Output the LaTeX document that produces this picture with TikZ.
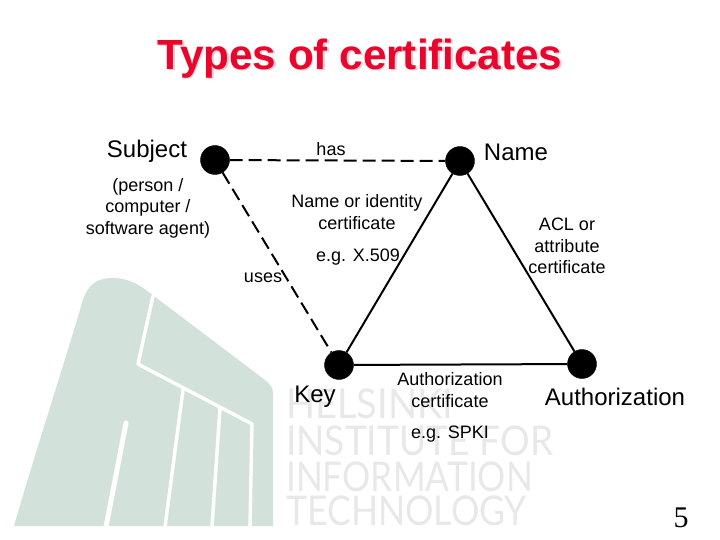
\documentclass[tikz,border=0pt]{standalone}
\usepackage{fontspec}
\setmainfont{Liberation Sans}
\newfontfamily\logofont{Lato}
\newfontfamily\numfont{Liberation Serif}
\usepackage{xcolor}
\usetikzlibrary{positioning}
\definecolor{logogreen}{HTML}{D3E1DB}
\definecolor{logotext}{HTML}{E8E8E8}
\definecolor{titlered}{HTML}{E8062C}
\definecolor{titleshade}{HTML}{F0C4CC}
\tikzset{
  dot/.style={circle, fill=black, draw=black, inner sep=0pt, minimum size=29pt},
  biglabel/.style={font=\fontsize{24}{28}\selectfont, inner sep=0pt},
  smalllabel/.style={font=\fontsize{18}{21.5}\selectfont, align=center, inner sep=0pt},
  logoline/.style={font=\logofont\fontsize{41}{41}\selectfont, text=logotext, anchor=base west, inner sep=0pt},
  solidedge/.style={line width=2pt},
  dashedge/.style={line width=2pt, dash pattern=on 13pt off 6pt},
  logocut/.style={white, line width=3.5pt, line cap=round, line join=round}
}
\begin{document}
\begin{tikzpicture}[x=1pt,y=-1pt]
  \useasboundingbox (0,0) rectangle (720,540);
  % Logo
  \fill[logogreen] (14,526) .. controls (30,470) and (62,370) .. (80,310)
    .. controls (86,285) and (95,278) .. (113,278)
    .. controls (128,278) and (140,285) .. (150,293) -- (265,380)
    .. controls (270,384) and (273,388) .. (273,393) -- (273,526) -- cycle;
  \draw[logocut] (153,296) -- (138,364) -- (252,424) -- (250,527);
  \draw[logocut] (183,390) -- (165,527);
  \draw[logocut] (220,408) -- (212,527);
  \draw[logocut, line width=5pt] (126,423) -- (106,527);
  % Logo text
  \node[logoline, xscale=.93] (helsinki) at (286,418) {HELSINKI};
  \node[logoline, xscale=.905] (institute) at (286,455) {INSTITUTE FOR};
  \node[logoline, xscale=.86] (information) at (286,491) {INFORMATION};
  \node[logoline, xscale=.868] (technology) at (286,525) {TECHNOLOGY};
  % Title
  \node[text=titleshade, font=\bfseries\fontsize{42.2}{48}\selectfont] (titleshadow) at (361.5,60) {Types of certificates};
  \node[text=titlered, font=\bfseries\fontsize{42.2}{48}\selectfont] (title) at (360,58.5) {Types of certificates};
  % Corners of the square
  \node[dot] (subject) at (215,160) {};
  \node[dot] (name) at (460,161) {};
  \node[dot] (key) at (339,365) {};
  \node[dot] (auth) at (582,364) {};
  % Edges
  \draw[dashedge] (subject) -- (name);
  \draw[dashedge] (subject) -- (key);
  \draw[solidedge] (name) -- (key);
  \draw[solidedge] (name) -- (auth);
  \draw[solidedge] (key) -- (auth);
  % Labels
  \node[biglabel] (subjectlabel) at (147,151) {Subject};
  \node[biglabel] (namelabel) at (516,152) {Name};
  \node[biglabel] (keylabel) at (315,397) {Key};
  \node[biglabel] (authlabel) at (615,397) {Authorization};
  \node[smalllabel] (haslabel) at (331,149) {has};
  \node[smalllabel] (subjectnote) at (148,208) {(person /\\computer /\\software agent)};
  \node[smalllabel] (identity) at (357,212) {Name or identity\\certificate};
  \node[smalllabel] (x509) at (358,257) {e.g. X.509};
  \node[smalllabel] (uses) at (263,278) {uses};
  \node[smalllabel] (acl) at (567,246) {ACL or\\attribute\\certificate};
  \node[smalllabel] (authcert) at (450,390) {Authorization\\certificate};
  \node[smalllabel] (spki) at (450,434) {e.g. SPKI};
  \node[inner sep=0pt, font=\numfont\fontsize{30}{30}\selectfont] (pagenum) at (681,518) {5};
\end{tikzpicture}
\end{document}
